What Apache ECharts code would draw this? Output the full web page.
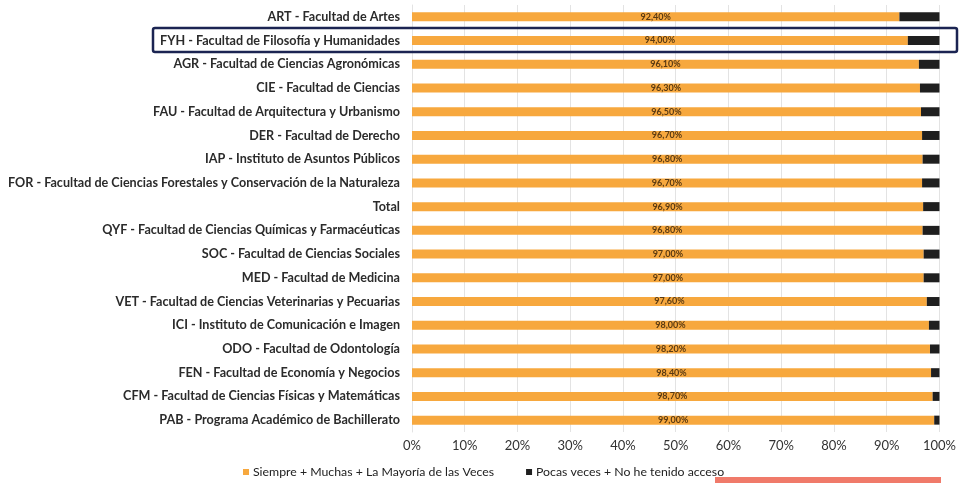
<!DOCTYPE html>
<html>
<head>
<meta charset="utf-8">
<script src="https://cdn.jsdelivr.net/npm/echarts@6/dist/echarts.min.js"></script>
<style>
  html, body { margin: 0; padding: 0; background: #fff; }
  #chart { width: 959px; height: 483px; }
</style>
</head>
<body>
<div id="chart"></div>
<script>
/* categorías (de arriba hacia abajo) */
const categorias = [
  'ART - Facultad de Artes',
  'FYH - Facultad de Filosofía y Humanidades',
  'AGR - Facultad de Ciencias Agronómicas',
  'CIE - Facultad de Ciencias',
  'FAU - Facultad de Arquitectura y Urbanismo',
  'DER - Facultad de Derecho',
  'IAP - Instituto de Asuntos Públicos',
  'FOR - Facultad de Ciencias Forestales y Conservación de la Naturaleza',
  'Total',
  'QYF - Facultad de Ciencias Químicas y Farmacéuticas',
  'SOC - Facultad de Ciencias Sociales',
  'MED - Facultad de Medicina',
  'VET - Facultad de Ciencias Veterinarias y Pecuarias',
  'ICI - Instituto de Comunicación e Imagen',
  'ODO - Facultad de Odontología',
  'FEN - Facultad de Economía y Negocios',
  'CFM - Facultad de Ciencias Físicas y Matemáticas',
  'PAB - Programa Académico de Bachillerato'
]
/* Siempre + Muchas + La Mayoría de las Veces */
const siempre = [92.4, 94.0, 96.1, 96.3, 96.5, 96.7, 96.8, 96.7, 96.9, 96.8, 97.0, 97.0, 97.6, 98.0, 98.2, 98.4, 98.7, 99.0]
/* Pocas veces + No he tenido acceso */
const pocas = [7.6, 6.0, 3.9, 3.7, 3.5, 3.3, 3.2, 3.3, 3.1, 3.2, 3.0, 3.0, 2.4, 2.0, 1.8, 1.6, 1.3, 1.0]
const ticks = [0, 10, 20, 30, 40, 50, 60, 70, 80, 90, 100]

const FONT = 'Lato, "Open Sans", sans-serif'
var myChart = echarts.init(document.getElementById('chart'), null, { renderer: 'canvas' })

const option = {
  animation: false,
  backgroundColor: '#fff',
  textStyle: { fontFamily: FONT },
  grid: {
    left: 412,
    right: 18,
    top: 5,
    bottom: 51
  },
  legend: {
    top: 461,
    left: 238,
    icon: 'rect',
    itemWidth: 6,
    itemHeight: 6,
    itemGap: 32,
    itemStyle: { borderWidth: 0 },
    textStyle: { fontFamily: FONT, fontSize: 12.3, color: '#222', padding: [0, 0, 0, -1] },
    data: ['Siempre + Muchas + La Mayoría de las Veces', 'Pocas veces + No he tenido acceso']
  },
  xAxis: {
    type: 'value',
    min: 0,
    max: 100,
    interval: 10,
    axisLine: { show: false },
    axisTick: { show: false },
    splitLine: { lineStyle: { color: '#e3e3e3' } },
    axisLabel: {
      fontFamily: FONT,
      fontSize: 13,
      color: '#333',
      margin: 7,
      formatter: (v) => ticks.includes(v) ? v + '%' : ''
    }
  },
  yAxis: {
    type: 'category',
    inverse: true,
    data: categorias,
    axisLine: { show: true, lineStyle: { color: '#e3e3e3' } },
    axisTick: { show: false },
    axisLabel: {
      fontFamily: FONT,
      fontSize: 12.6,
      fontWeight: 'bold',
      color: '#2b2b2b',
      margin: 12
    }
  },
  series: [
    {
      name: 'Siempre + Muchas + La Mayoría de las Veces',
      type: 'bar',
      stack: 'total',
      barWidth: 9,
      data: siempre,
      itemStyle: { color: '#F7A83E' },
      label: {
        show: true,
        position: 'inside',
        fontFamily: FONT,
        fontSize: 9,
        fontWeight: 'bold',
        color: '#5a3a12',
        formatter: (p) => p.value.toFixed(2).replace('.', ',') + '%'
      }
    },
    {
      name: 'Pocas veces + No he tenido acceso',
      type: 'bar',
      stack: 'total',
      barWidth: 9,
      data: pocas,
      itemStyle: { color: '#1f1f1f' }
    }
  ],
  graphic: [
    {
      // recuadro destacando FYH
      type: 'rect',
      shape: { x: 153, y: 28, width: 804, height: 24, r: 2 },
      style: { fill: 'none', stroke: '#1b2452', lineWidth: 2.5 },
      z: 100
    },
    {
      type: 'rect',
      shape: { x: 715, y: 477, width: 226, height: 7 },
      style: { fill: '#F07A6A' },
      z: 100
    }
  ]
}
myChart.setOption(option)
</script>
</body>
</html>
